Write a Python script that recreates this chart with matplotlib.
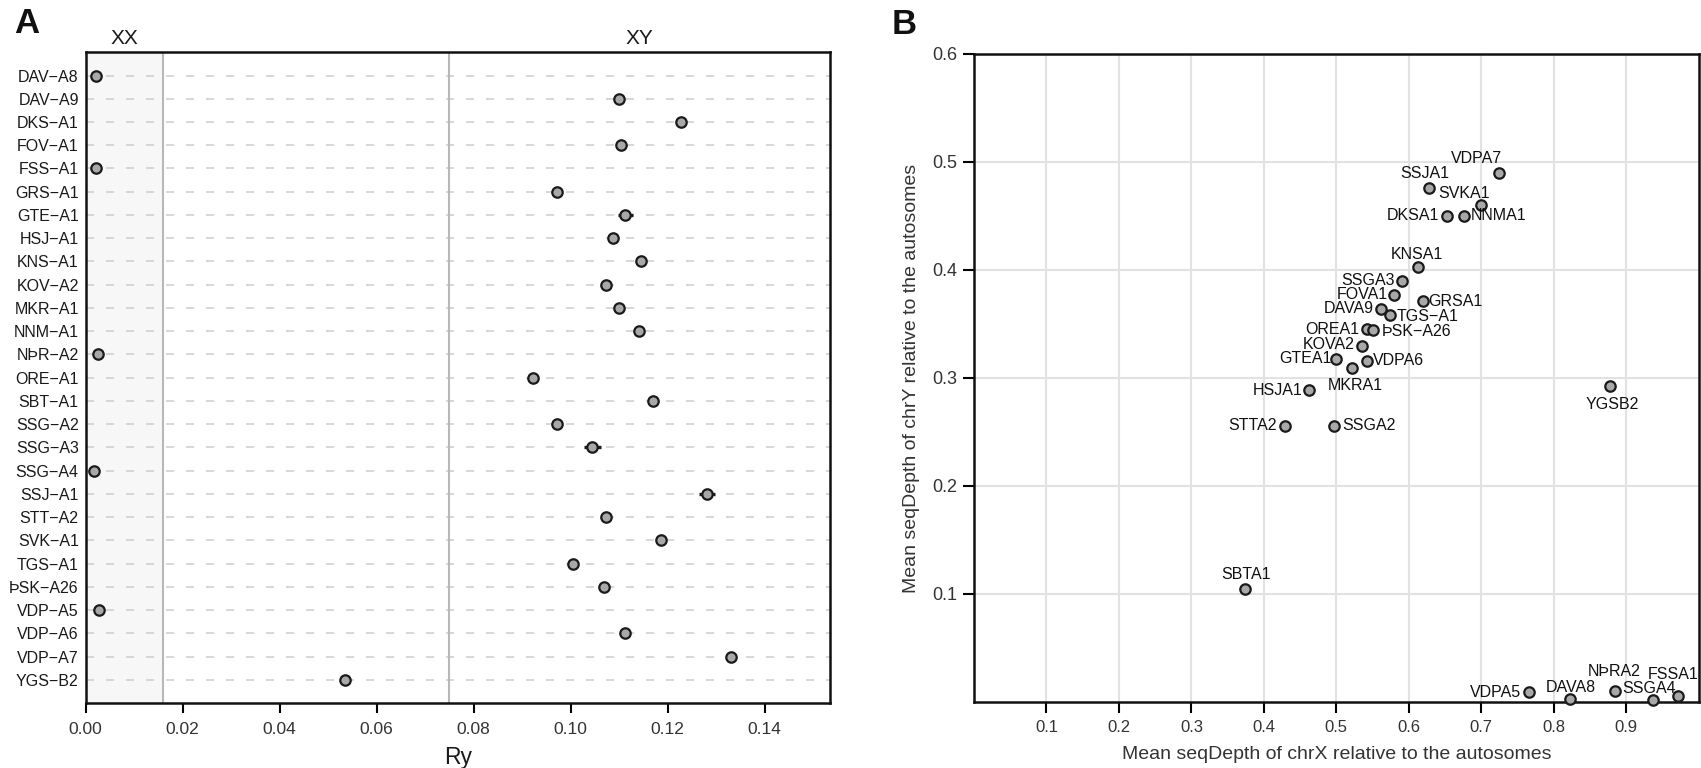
import matplotlib
matplotlib.use('Agg')
import matplotlib.pyplot as plt
import numpy as np
from matplotlib import font_manager
from matplotlib.ticker import FormatStrFormatter

plt.rcParams['font.family'] = ['Liberation Sans', 'DejaVu Sans']
plt.rcParams['lines.scale_dashes'] = False

# ---------------- data ----------------
samples = ['DAV−A8', 'DAV−A9', 'DKS−A1', 'FOV−A1', 'FSS−A1', 'GRS−A1', 'GTE−A1',
           'HSJ−A1', 'KNS−A1', 'KOV−A2', 'MKR−A1', 'NNM−A1', 'NÞR−A2', 'ORE−A1',
           'SBT−A1', 'SSG−A2', 'SSG−A3', 'SSG−A4', 'SSJ−A1', 'STT−A2', 'SVK−A1',
           'TGS−A1', 'ÞSK−A26', 'VDP−A5', 'VDP−A6', 'VDP−A7', 'YGS−B2']
ry = [0.0021, 0.1100, 0.1227, 0.1104, 0.0021, 0.0972, 0.1113,
      0.1088, 0.1146, 0.1073, 0.1099, 0.1141, 0.0025, 0.0922,
      0.1170, 0.0972, 0.1045, 0.0017, 0.1281, 0.1074, 0.1186,
      0.1004, 0.1068, 0.0028, 0.1113, 0.1331, 0.0535]
ry_err = [0, 0, 0, 0, 0, 0, 0.0016,
          0, 0, 0, 0.0008, 0, 0, 0,
          0, 0, 0.0018, 0, 0.0017, 0, 0,
          0, 0, 0, 0, 0, 0]
xx_cut = 0.016
xy_cut = 0.075

b_labels = ['VDPA7', 'SSJA1', 'SVKA1', 'DKSA1', 'NNMA1', 'KNSA1', 'SSGA3', 'FOVA1',
            'GRSA1', 'DAVA9', 'TGS−A1', 'OREA1', 'ÞSK−A26', 'KOVA2', 'GTEA1', 'VDPA6',
            'MKRA1', 'HSJA1', 'STTA2', 'SSGA2', 'YGSB2', 'SBTA1', 'VDPA5', 'DAVA8',
            'NÞRA2', 'SSGA4', 'FSSA1']
b_x = [0.724, 0.628, 0.700, 0.652, 0.676, 0.613, 0.590, 0.580,
       0.619, 0.561, 0.574, 0.542, 0.551, 0.535, 0.500, 0.542,
       0.522, 0.462, 0.429, 0.497, 0.877, 0.374, 0.766, 0.822,
       0.884, 0.937, 0.972]
b_y = [0.490, 0.476, 0.460, 0.450, 0.450, 0.403, 0.390, 0.377,
       0.371, 0.364, 0.358, 0.345, 0.344, 0.330, 0.318, 0.316,
       0.309, 0.289, 0.256, 0.256, 0.293, 0.105, 0.009, 0.003,
       0.010, 0.002, 0.006]

# label placement (style): offset in pixels, ha, va
b_label_style = {
    'VDPA7': (-22, 14, 'center', 'center'), 'SSJA1': (-4, 14, 'center', 'center'),
    'SVKA1': (-17, 12, 'center', 'center'), 'DKSA1': (-7, 0, 'right', 'center'),
    'NNMA1': (7, 0, 'left', 'center'), 'KNSA1': (-1, 12, 'center', 'center'),
    'SSGA3': (-7, 0, 'right', 'center'), 'FOVA1': (-6, 0, 'right', 'center'),
    'GRSA1': (6, 0, 'left', 'center'), 'DAVA9': (-7, 0, 'right', 'center'),
    'TGS−A1': (7, -1, 'left', 'center'), 'OREA1': (-8, 0, 'right', 'center'),
    'ÞSK−A26': (8, -1, 'left', 'center'), 'KOVA2': (-7, 1, 'right', 'center'),
    'GTEA1': (-5, 0, 'right', 'center'), 'VDPA6': (6, 0, 'left', 'center'),
    'MKRA1': (3, -17, 'center', 'center'), 'HSJA1': (-6, -1, 'right', 'center'),
    'STTA2': (-8, 0, 'right', 'center'), 'SSGA2': (8, 0, 'left', 'center'),
    'YGSB2': (3, -19, 'center', 'center'), 'SBTA1': (1, 14, 'center', 'center'),
    'VDPA5': (-8, 0, 'right', 'center'), 'DAVA8': (1, 11, 'center', 'center'),
    'NÞRA2': (0, 20, 'center', 'center'), 'SSGA4': (-4, 11, 'center', 'center'),
    'FSSA1': (-5, 21, 'center', 'center'),
}

# ---------------- figure ----------------
W, H = 1701, 768
fig = plt.figure(figsize=(W / 100, H / 100), dpi=100)
fig.patch.set_facecolor('#ffffff')

axA = fig.add_axes([85.7 / W, 1 - 703 / H, (830 - 85.7) / W, (703 - 52.3) / H])
axB = fig.add_axes([974 / W, 1 - 702 / H, (1698.7 - 974) / W, (702 - 54) / H])

marker_kw = dict(marker='o', ms=7.5, mfc='#a8a8a8', mec='#1a1a1a', mew=1.6)

# ---- Panel A ----
n = len(samples)
ypos = np.arange(1, n + 1)
axA.set_xlim(0, 0.1535)
axA.set_ylim(n + 1, 0)
axA.axvspan(0, xx_cut, color='#f7f7f7', zorder=0, lw=0)
for y in ypos:
    axA.axhline(y, color='#cdcdcd', lw=1.1, ls=(0, (5.8, 8.6)), zorder=1)
axA.axvline(xx_cut, color='#b8b8b8', lw=1.5, zorder=1)
axA.axvline(xy_cut, color='#b8b8b8', lw=1.5, zorder=1)
axA.errorbar(ry, ypos, xerr=ry_err, fmt='none', ecolor='#1a1a1a', elinewidth=2.4,
             capsize=0, zorder=3)
axA.plot(ry, ypos, ls='none', zorder=4, **marker_kw)
axA.set_yticks(ypos, samples)
axA.tick_params(axis='y', length=0, pad=5, labelsize=11.5, labelcolor='#1a1a1a')
axA.set_xticks(np.arange(0, 0.141, 0.02))
axA.xaxis.set_major_formatter(FormatStrFormatter('%.2f'))
axA.tick_params(axis='x', length=7.5, width=1.5, labelsize=12.5, pad=6, labelcolor='#333333')
for s in axA.spines.values():
    s.set_linewidth(1.8)
    s.set_color('#111111')
axA.set_xlabel('Ry', fontsize=16.5, labelpad=7, color='#1a1a1a')
axA.annotate('XX', xy=(xx_cut / 2, 1), xycoords=('data', 'axes fraction'),
             xytext=(0, 8), textcoords='offset pixels', ha='center', va='baseline',
             fontsize=15, color='#1a1a1a', annotation_clip=False)
axA.annotate('XY', xy=((xy_cut + axA.get_xlim()[1]) / 2, 1), xycoords=('data', 'axes fraction'),
             xytext=(0, 8), textcoords='offset pixels', ha='center', va='baseline',
             fontsize=15, color='#1a1a1a', annotation_clip=False)

# ---- Panel B ----
axB.set_xlim(0, 1.0)
axB.set_ylim(0, 0.6)
axB.set_xticks(np.arange(0.1, 0.91, 0.1))
axB.set_yticks(np.arange(0.1, 0.61, 0.1))
axB.xaxis.set_major_formatter(FormatStrFormatter('%.1f'))
axB.yaxis.set_major_formatter(FormatStrFormatter('%.1f'))
axB.grid(True, color='#e2e2e2', lw=1.5, zorder=0)
axB.set_axisbelow(True)
axB.tick_params(axis='x', length=8, width=1.5, labelsize=12, pad=5, labelcolor='#333333')
axB.tick_params(axis='y', length=8, width=1.5, labelsize=13, pad=4, labelcolor='#333333')
for s in axB.spines.values():
    s.set_linewidth(1.8)
    s.set_color('#111111')
axB.plot(b_x, b_y, ls='none', zorder=4, clip_on=False, **marker_kw)
for lab, x, y in zip(b_labels, b_x, b_y):
    dx, dy, ha, va = b_label_style[lab]
    axB.annotate(lab, xy=(x, y), xytext=(dx, dy), textcoords='offset pixels',
                 ha=ha, va=va, fontsize=11.5, color='#111111', annotation_clip=False,
                 zorder=5)

axB.set_xlabel('Mean seqDepth of chrX relative to the autosomes', fontsize=14,
               labelpad=8, color='#333333')
narrow = None
for cand in ['Liberation Sans Narrow']:
    try:
        font_manager.findfont(cand, fallback_to_default=False)
        narrow = cand
        break
    except Exception:
        pass
ylab_family = [narrow, 'Liberation Sans'] if narrow else ['Liberation Sans']
axB.set_ylabel('Mean seqDepth of chrY relative to the autosomes', fontsize=14,
               labelpad=9, color='#333333', family=ylab_family)

fig.text(14 / W, 1 - 33 / H, 'A', fontsize=25, fontweight='bold', va='baseline', color='#111111')
fig.text(892 / W, 1 - 34 / H, 'B', fontsize=25, fontweight='bold', va='baseline', color='#111111')

fig.savefig('out.png', dpi=100, facecolor=fig.get_facecolor())
